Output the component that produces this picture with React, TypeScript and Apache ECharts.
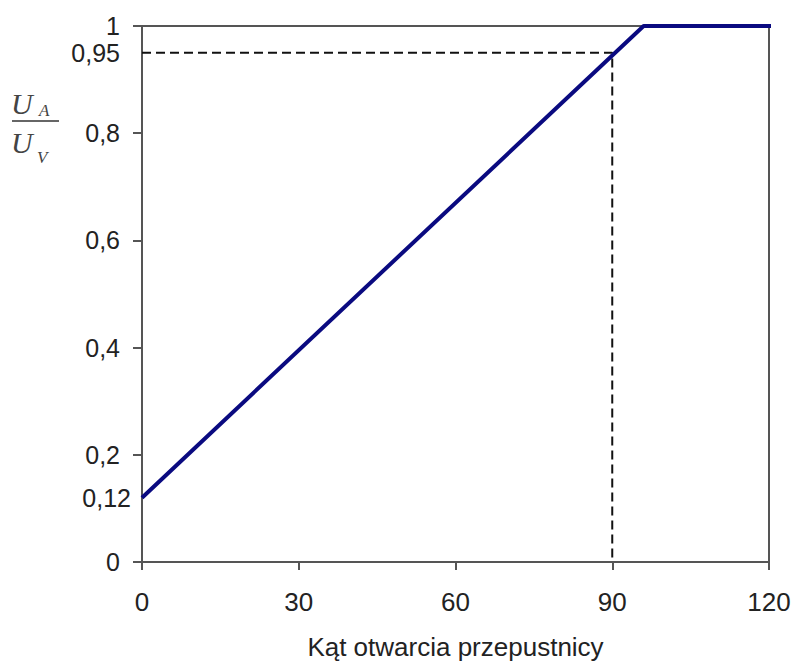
import React, { useEffect, useRef } from "react";
import * as echarts from "echarts";

const angles = [0, 96, 121];
const ratio = [0.12, 1, 1];
const refAngle = 90;
const refRatio = 0.95;
const yLabelValues = [0, 0.2, 0.4, 0.6, 0.8, 0.95, 1];
const yTickValues = [0, 0.2, 0.4, 0.6, 0.8, 1];
const yStartLabel = [0.12];
const xTitle = "Kąt otwarcia przepustnicy";

const fmt = (v: number) => String(v).replace(".", ",");

export default function App() {
  const ref = useRef<HTMLDivElement>(null);
  useEffect(() => {
    if (!ref.current) return;
    const chart = echarts.init(ref.current, null, { renderer: "svg" });
    const font = "'Liberation Sans', Arial, sans-serif";
    const serif = "'Liberation Serif', 'Times New Roman', serif";
    const axisColor = "#555";
    chart.setOption({
      animation: false,
      backgroundColor: "#fff",
      grid: {
        left: 142,
        right: 27,
        top: 26,
        bottom: 100,
        outerBoundsMode: "none",
        containLabel: false,
        show: true,
        borderColor: axisColor,
        borderWidth: 2,
      },
      xAxis: {
        type: "value",
        min: 0,
        max: 120,
        interval: 30,
        name: xTitle,
        nameLocation: "middle",
        nameGap: 72,
        nameTextStyle: { fontFamily: font, fontSize: 26, color: "#222" },
        axisLine: { show: true, lineStyle: { color: axisColor, width: 2 } },
        axisTick: { show: true, length: 8, lineStyle: { color: axisColor, width: 2 } },
        axisLabel: { fontFamily: font, fontSize: 26, color: "#222", margin: 27 },
        splitLine: { show: false },
      },
      yAxis: [
        {
          type: "value",
          min: 0,
          max: 1,
          interval: 0.2,
          position: "left",
          axisLine: { show: true, lineStyle: { color: axisColor, width: 2 } },
          axisTick: {
            show: true,
            length: 9,
            customValues: yTickValues,
            lineStyle: { color: axisColor, width: 2 },
          },
          axisLabel: {
            fontFamily: font,
            fontSize: 25,
            lineHeight: 20,
            color: "#222",
            margin: 22,
            customValues: yLabelValues,
            formatter: (v: number) => fmt(v),
          },
          splitLine: { show: false },
        },
        {
          type: "value",
          min: 0,
          max: 1,
          interval: 0.2,
          position: "left",
          axisLine: { show: false },
          axisTick: { show: false },
          axisLabel: {
            fontFamily: font,
            fontSize: 25,
            lineHeight: 20,
            color: "#222",
            margin: 11,
            customValues: yStartLabel,
            formatter: (v: number) => fmt(v),
          },
          splitLine: { show: false },
        },
      ],
      series: [
        {
          type: "line",
          data: [
            [0, refRatio],
            [refAngle, refRatio],
            [refAngle, 0],
          ],
          symbol: "none",
          lineStyle: { color: "#111", width: 2, type: [9, 5] },
          z: 2,
        },
        {
          type: "line",
          data: angles.map((a, i) => [a, ratio[i]]),
          symbol: "none",
          clip: false,
          lineStyle: { color: "#0a0a80", width: 4 },
          z: 3,
        },
      ],
      graphic: [
        { type: "text", left: 11, top: 88, style: { text: "U", font: `italic 30px ${serif}`, fill: "#444" } },
        { type: "text", left: 39, top: 102, style: { text: "A", font: `italic 17px ${serif}`, fill: "#444" } },
        { type: "line", shape: { x1: 12, y1: 121, x2: 59, y2: 121 }, style: { stroke: "#333", lineWidth: 1.5 } },
        { type: "text", left: 11, top: 127, style: { text: "U", font: `italic 30px ${serif}`, fill: "#444" } },
        { type: "text", left: 37, top: 149, style: { text: "V", font: `italic 17px ${serif}`, fill: "#444" } },
      ],
    });
    return () => chart.dispose();
  }, []);
  return (
    <div
      ref={ref}
      style={{ position: "fixed", left: 0, top: 0, width: 796, height: 662 }}
    />
  );
}
